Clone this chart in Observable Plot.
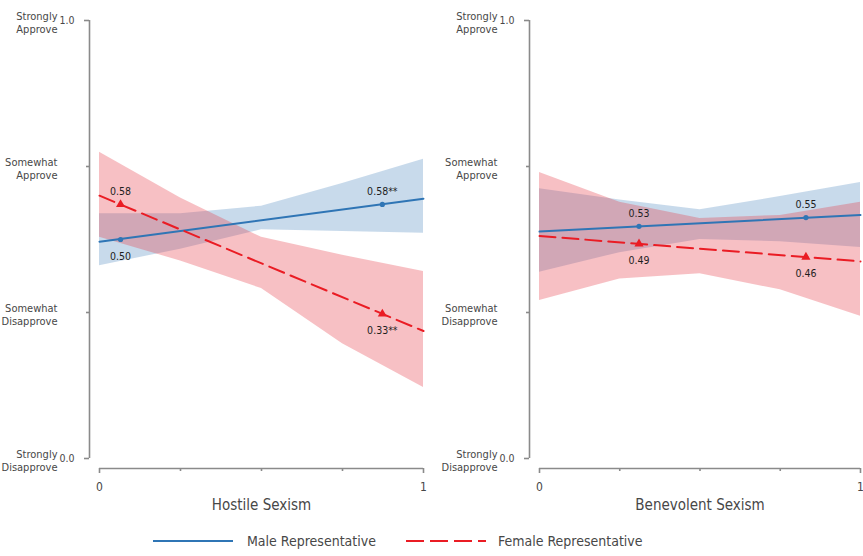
<!DOCTYPE html>
<html>
<head>
<meta charset="utf-8">
<script src="https://cdn.jsdelivr.net/npm/d3@7"></script>
<script src="https://cdn.jsdelivr.net/npm/@observablehq/plot@0.6"></script>
<style>
  body { margin: 0; background: #fff; }
  #chart { width: 863px; }
  #panels { display: flex; }
</style>
</head>
<body>
<div id="chart">
  <div id="panels"></div>
  <div id="legend"></div>
</div>
<script>
// Predicted approval of the representative, by respondent sexism and representative gender
const panelTitles = ["Hostile Sexism", "Benevolent Sexism"];

// Axis ticks
const xTicksLabeled = [0, 1];
const xTicksMinor = [0.25, 0.5, 0.75];
const yTickValues = [0, 1 / 3, 2 / 3, 1];
const yTickNames = ["Strongly\nDisapprove", "Somewhat\nDisapprove", "Somewhat\nApprove", "Strongly\nApprove"];
const yEndTicks = [0, 1];

// Confidence bands are evaluated at these sexism scores
const bandX = [0, 0.25, 0.5, 0.75, 1];
// Fitted lines run from sexism = 0 to sexism = 1
const lineX = [0, 1];

// Hostile sexism
const hostileMaleLine = [0.495, 0.593];
const hostileFemaleLine = [0.600, 0.291];
const hostileMaleLow = [0.440, 0.478, 0.522, 0.518, 0.514];
const hostileMaleHigh = [0.559, 0.559, 0.576, 0.628, 0.683];
const hostileFemaleLow = [0.505, 0.451, 0.388, 0.262, 0.162];
const hostileFemaleHigh = [0.699, 0.595, 0.505, 0.464, 0.427];
const hostilePointX = [0.065, 0.873];
const hostileMalePoints = [0.50, 0.58];
const hostileFemalePoints = [0.58, 0.33];
const hostileMaleLabels = ["0.50", "0.58**"];
const hostileFemaleLabels = ["0.58", "0.33**"];
const hostileMaleSide = ["below", "above"];
const hostileFemaleSide = ["above", "below"];

// Benevolent sexism
const benevolentMaleLine = [0.518, 0.556];
const benevolentFemaleLine = [0.508, 0.450];
const benevolentMaleLow = [0.425, 0.470, 0.500, 0.495, 0.482];
const benevolentMaleHigh = [0.616, 0.590, 0.568, 0.598, 0.630];
const benevolentFemaleLow = [0.361, 0.410, 0.422, 0.385, 0.325];
const benevolentFemaleHigh = [0.653, 0.585, 0.548, 0.555, 0.585];
const benevolentPointX = [0.31, 0.83];
const benevolentMalePoints = [0.53, 0.55];
const benevolentFemalePoints = [0.49, 0.46];
const benevolentMaleLabels = ["0.53", "0.55"];
const benevolentFemaleLabels = ["0.49", "0.46"];
const benevolentMaleSide = ["above", "above"];
const benevolentFemaleSide = ["below", "below"];

// Legend
const seriesNames = ["Male Representative", "Female Representative"];

const FONT = '"DejaVu Sans Condensed", "Liberation Sans Narrow", "Roboto", sans-serif';
const BLUE = "#2f75b5";
const RED = "#ea1c24";
const AXIS = "#8a8a8a";
const TEXT = "#474747";

const sideDy = s => (s === "above" ? -13 : 17);

function panel({title, width, marginRight, maleLine, femaleLine, maleLow, maleHigh, femaleLow, femaleHigh,
                pointX, malePoints, femalePoints, maleLabels, femaleLabels, maleSide, femaleSide}) {
  const marks = [
    // confidence bands
    Plot.areaY(bandX, {x: d => d, y1: (d, i) => maleLow[i], y2: (d, i) => maleHigh[i], fill: "#4a86bd", fillOpacity: 0.3}),
    Plot.areaY(bandX, {x: d => d, y1: (d, i) => femaleLow[i], y2: (d, i) => femaleHigh[i], fill: "#e63c46", fillOpacity: 0.32}),
    // fitted lines
    Plot.line(lineX, {x: d => d, y: (d, i) => maleLine[i], stroke: BLUE, strokeWidth: 2}),
    Plot.line(lineX, {x: d => d, y: (d, i) => femaleLine[i], stroke: RED, strokeWidth: 2, strokeDasharray: "16,7"}),
    // highlighted predictions
    Plot.dot(pointX, {x: d => d, y: (d, i) => malePoints[i], r: 2.6, fill: BLUE}),
    Plot.dot(pointX, {x: d => d, y: (d, i) => femalePoints[i], r: 3.4, symbol: "triangle", fill: RED}),
    ...pointX.map((px, i) => Plot.text([maleLabels[i]], {x: px, y: malePoints[i], text: d => d, dy: sideDy(maleSide[i]), fontSize: 10.5, fill: "#1e1e1e"})),
    ...pointX.map((px, i) => Plot.text([femaleLabels[i]], {x: px, y: femalePoints[i], text: d => d, dy: sideDy(femaleSide[i]), fontSize: 10.5, fill: "#1e1e1e"})),
    // y axis (offset bracket)
    Plot.ruleX([0], {y1: 0, y2: 1, dx: -10, stroke: AXIS, strokeWidth: 1.6}),
    Plot.axisY(yEndTicks, {tickSize: 5, tickPadding: 10, dx: -10, tickFormat: d3.format(".1f"), stroke: AXIS, fill: TEXT, strokeWidth: 1.6, fontSize: 10.5, label: null}),
    Plot.axisY(yTickValues.slice(1, 3), {tickSize: 3, dx: -10, tickFormat: () => "", stroke: AXIS, strokeWidth: 1.6, label: null}),
    Plot.text(yTickNames, {y: (d, i) => yTickValues[i], text: d => d, frameAnchor: "left", dx: -42, dy: 2, textAnchor: "end", lineHeight: 1.2, fontSize: 11, fill: TEXT}),
    // x axis (offset bracket)
    Plot.ruleY([0], {x1: 0, x2: 1, dy: 10, stroke: AXIS, strokeWidth: 1.6}),
    Plot.axisX(xTicksLabeled, {tickSize: 5, tickPadding: 9, dy: 10, tickFormat: d3.format("d"), stroke: AXIS, fill: TEXT, strokeWidth: 1.6, fontSize: 12, label: null}),
    Plot.axisX(xTicksMinor, {tickSize: 3, dy: 10, tickFormat: () => "", stroke: AXIS, strokeWidth: 1.6, label: null}),
    Plot.text([title], {frameAnchor: "bottom", dy: 51, fontSize: 15, fill: TEXT})
  ];
  return Plot.plot({
    width,
    height: 522,
    marginLeft: 99,
    marginRight,
    marginTop: 20,
    marginBottom: 64,
    x: {domain: [0, 1]},
    y: {domain: [0, 1]},
    style: {fontFamily: FONT, background: "transparent", overflow: "visible"},
    marks
  });
}

const panels = document.getElementById("panels");
panels.append(panel({
  title: panelTitles[0], width: 440, marginRight: 17,
  maleLine: hostileMaleLine, femaleLine: hostileFemaleLine,
  maleLow: hostileMaleLow, maleHigh: hostileMaleHigh,
  femaleLow: hostileFemaleLow, femaleHigh: hostileFemaleHigh,
  pointX: hostilePointX, malePoints: hostileMalePoints, femalePoints: hostileFemalePoints,
  maleLabels: hostileMaleLabels, femaleLabels: hostileFemaleLabels,
  maleSide: hostileMaleSide, femaleSide: hostileFemaleSide
}));
panels.append(panel({
  title: panelTitles[1], width: 423, marginRight: 3,
  maleLine: benevolentMaleLine, femaleLine: benevolentFemaleLine,
  maleLow: benevolentMaleLow, maleHigh: benevolentMaleHigh,
  femaleLow: benevolentFemaleLow, femaleHigh: benevolentFemaleHigh,
  pointX: benevolentPointX, malePoints: benevolentMalePoints, femalePoints: benevolentFemalePoints,
  maleLabels: benevolentMaleLabels, femaleLabels: benevolentFemaleLabels,
  maleSide: benevolentMaleSide, femaleSide: benevolentFemaleSide
}));

// Legend below the panels
const legend = d3.select("#legend").append("svg").attr("width", 863).attr("height", 34);
const legendItems = [
  {name: seriesNames[0], color: BLUE, dash: null, x: 153},
  {name: seriesNames[1], color: RED, dash: "18,6", x: 406}
];
const item = legend.selectAll("g").data(legendItems).join("g")
  .attr("transform", d => `translate(${d.x},19)`);
item.append("line")
  .attr("x1", 0).attr("x2", 80)
  .attr("stroke", d => d.color).attr("stroke-width", 2)
  .attr("stroke-dasharray", d => d.dash);
item.append("text")
  .attr("x", d => (d.dash ? 92 : 94)).attr("dy", "0.35em")
  .attr("fill", TEXT).attr("font-size", 14).attr("font-family", FONT)
  .text(d => d.name);
</script>
</body>
</html>
